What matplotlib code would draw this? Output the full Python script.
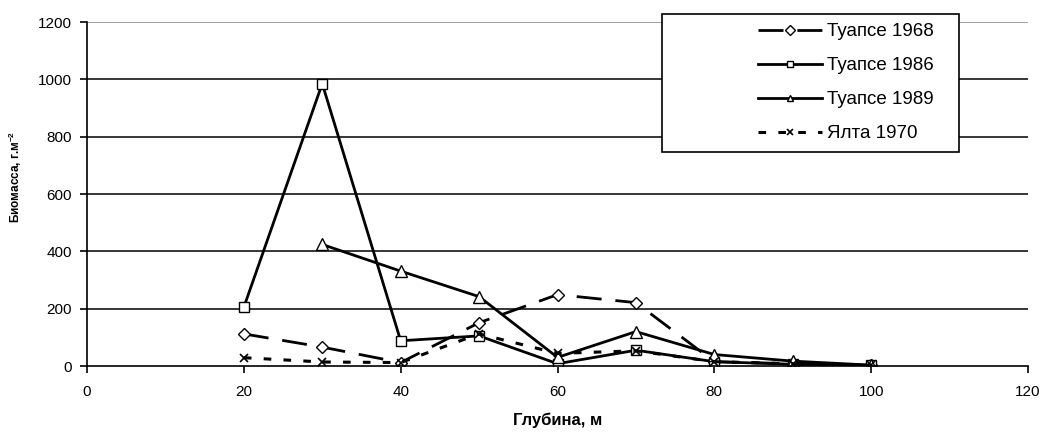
import numpy as np
import matplotlib
matplotlib.use("Agg")
import matplotlib.pyplot as plt
from matplotlib.patches import Rectangle

plt.rcParams['font.family'] = ['Liberation Sans', 'DejaVu Sans']
plt.rcParams['mathtext.fontset'] = 'custom'
plt.rcParams['mathtext.rm'] = 'Liberation Sans'
plt.rcParams['mathtext.bf'] = 'Liberation Sans:bold'

# === ДАННЫЕ ===
depth = [20, 30, 40, 50, 60, 70, 80, 90, 100]
depth_1989 = [30, 40, 50, 60, 70, 80, 90, 100]

tuapse_1968 = [112, 66, 12, 151, 249, 221, 15, 8, 4]
tuapse_1986 = [205, 985, 88, 105, 8, 55, 15, 6, 3]
tuapse_1989 = [424, 331, 242, 30, 120, 40, 17, 3]
yalta_1970 = [29, 14, 12, 112, 44, 53, 15, 8, 3]

xticks = [0, 20, 40, 60, 80, 100, 120]
yticks = [0, 200, 400, 600, 800, 1000, 1200]

# === ГРАФИК ===
W, H = 1043, 432
fig = plt.figure(figsize=(W / 100, H / 100), dpi=100)
ax = fig.add_axes([87 / W, 1 - 366 / H, 941 / W, 344 / H])

mk = dict(markerfacecolor='white', markeredgecolor='black', markeredgewidth=1.0)
l1, = ax.plot(depth, tuapse_1968, color='black', lw=2, linestyle=(0, (9, 5)),
              marker='D', markersize=6, label='Туапсе 1968', **mk)
l2, = ax.plot(depth, tuapse_1986, color='black', lw=2, linestyle='-',
              marker='s', markersize=7, label='Туапсе 1986', **mk)
l3, = ax.plot(depth_1989, tuapse_1989, color='black', lw=2, linestyle='-',
              marker='^', markersize=8, label='Туапсе 1989', **mk)
l4, = ax.plot(depth, yalta_1970, color='black', lw=2.2, linestyle=(0, (2.5, 4)),
              marker='x', markersize=6, markeredgewidth=1.2, label='Ялта 1970')

ax.set_xlim(0, 120)
ax.set_ylim(0, 1200)
ax.set_xticks(xticks)
ax.set_yticks(yticks)
ax.tick_params(axis='both', direction='out', length=5, width=1.2, labelsize=11)
ax.tick_params(axis='x', pad=9)
ax.tick_params(axis='y', pad=6)

for y in yticks[1:]:
    ax.axhline(y, color='#888888' if y == 1200 else 'black', lw=1.1, zorder=0)

ax.spines['top'].set_visible(False)
ax.spines['right'].set_visible(False)
ax.spines['left'].set_linewidth(1.2)
ax.spines['bottom'].set_linewidth(1.2)

ax.set_xlabel('Глубина, м', fontsize=12, fontweight='bold')
ax.xaxis.set_label_coords(0.5, -(413 - 366) / 344)
ax.set_ylabel('Биомасса, г.м$^{\\mathbf{-2}}$', fontsize=8.5, fontweight='bold')
ax.yaxis.set_label_coords(-(87 - 24) / 941, (366 - 177) / 344)

# === ЛЕГЕНДА ===
fig.patches.append(Rectangle((662 / W, 1 - 152 / H), 297 / W, 138 / H,
                             transform=fig.transFigure, facecolor='white',
                             edgecolor='black', lw=1.2, zorder=5))
leg = fig.legend(handles=[l1, l2, l3, l4], loc='upper left',
                 bbox_to_anchor=(758 / W, 1 - 23 / H), frameon=False,
                 fontsize=13.5, handlelength=3.4, handletextpad=0.3,
                 labelspacing=0.9, borderpad=0, borderaxespad=0)
leg.set_zorder(6)
for h in leg.legend_handles:
    h.set_markersize(5)

fig.savefig('out.png', dpi=100)
